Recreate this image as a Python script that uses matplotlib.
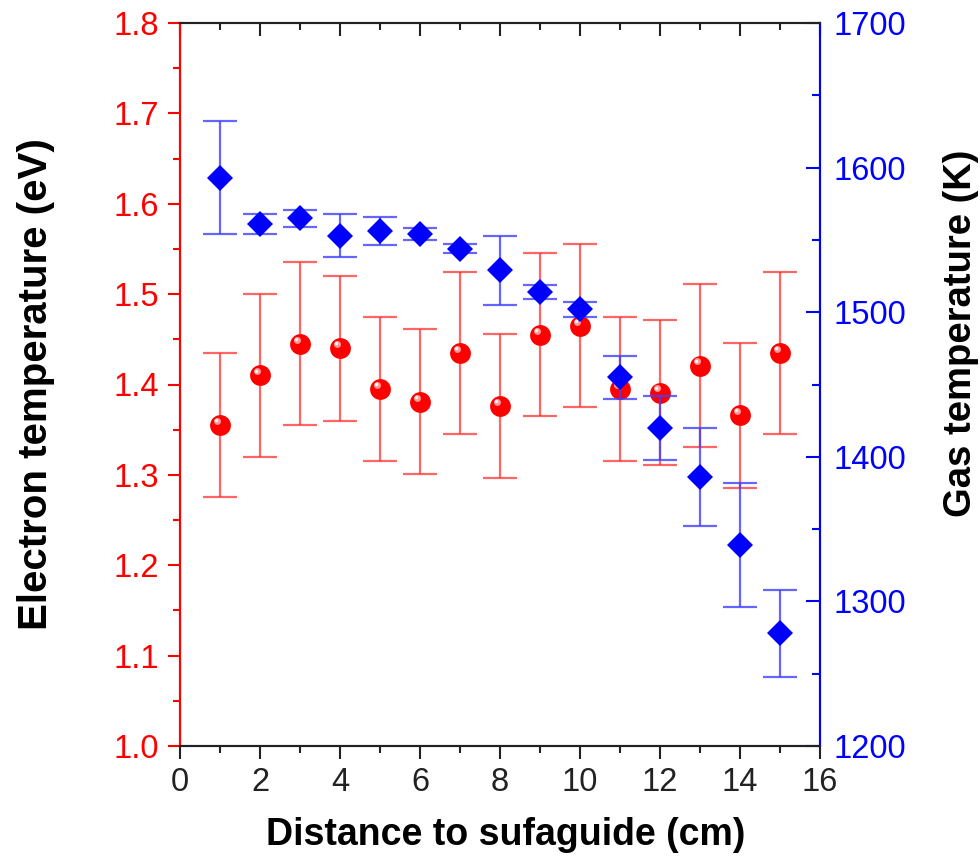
import matplotlib
matplotlib.use("Agg")
import matplotlib.pyplot as plt
from matplotlib.ticker import MultipleLocator
from matplotlib.transforms import offset_copy

plt.rcParams['font.family'] = ['Liberation Sans', 'DejaVu Sans']

distance = [1, 2, 3, 4, 5, 6, 7, 8, 9, 10, 11, 12, 13, 14, 15]
te = [1.355, 1.410, 1.445, 1.440, 1.395, 1.381, 1.435, 1.376, 1.455, 1.465,
      1.395, 1.391, 1.421, 1.366, 1.435]
te_err = [0.08, 0.09, 0.09, 0.08, 0.08, 0.08, 0.09, 0.08, 0.09, 0.09,
          0.08, 0.08, 0.09, 0.08, 0.09]
tg = [1593, 1561, 1565, 1553, 1556, 1554, 1544, 1529, 1514, 1502,
      1455, 1420, 1386, 1339, 1278]
tg_err = [39, 7, 6, 15, 9.5, 4, 3, 24, 5, 5, 15, 22, 34, 43, 30]

fig = plt.figure(figsize=(9.8, 8.61), dpi=100)
ax = fig.add_axes([180/980, 1-746/861, 640/980, 723/861])
ax2 = ax.twinx()

red = '#ff0000'
blue = '#0000ff'

ax.errorbar(distance, te, yerr=te_err, fmt='none', ecolor=(1, 0.2, 0.2, 0.75),
            elinewidth=1.6, capsize=12.5, capthick=1.6, zorder=2)
ax.plot(distance, te, 'o', color=red, markersize=15, markeredgewidth=0, zorder=3)
hl = offset_copy(ax.transData, fig=fig, x=-2.5, y=3, units='points')
ax.plot(distance, te, 'o', color='#ff9a9a', markersize=5, markeredgewidth=0,
        transform=hl, zorder=4)
hl2 = offset_copy(ax.transData, fig=fig, x=-3, y=3.5, units='points')
ax.plot(distance, te, 'o', color='#ffffff', markersize=2.5, markeredgewidth=0,
        alpha=0.9, transform=hl2, zorder=5)

ax2.errorbar(distance, tg, yerr=tg_err, fmt='none', ecolor=(0.25, 0.25, 1, 0.8),
             elinewidth=1.6, capsize=12.5, capthick=1.6, zorder=2)
ax2.plot(distance, tg, 'D', color=blue, markersize=13.5, markeredgewidth=0, zorder=3)

ax.set_xlim(0, 16)
ax.set_ylim(1.0, 1.8)
ax2.set_ylim(1200, 1700)

ax.xaxis.set_major_locator(MultipleLocator(2))
ax.xaxis.set_minor_locator(MultipleLocator(1))
ax.yaxis.set_major_locator(MultipleLocator(0.1))
ax.yaxis.set_minor_locator(MultipleLocator(0.05))
ax2.yaxis.set_major_locator(MultipleLocator(100))
ax2.yaxis.set_minor_locator(MultipleLocator(50))
ax.yaxis.set_major_formatter(matplotlib.ticker.FormatStrFormatter('%.1f'))

ax.tick_params(axis='x', which='both', direction='out', bottom=True, top=False,
               colors='#222222', labelsize=23.5, width=1.5, pad=6)
ax.tick_params(axis='x', which='major', length=9)
ax.tick_params(axis='x', which='minor', length=5)
ax.tick_params(axis='y', which='both', direction='out', colors=red, labelsize=23.5,
               width=1.5, pad=6, right=False)
ax.tick_params(axis='y', which='major', length=9)
ax.tick_params(axis='y', which='minor', length=5)
ax2.tick_params(axis='y', which='both', direction='in', colors=blue, labelsize=23.5,
                width=1.5, pad=10)
ax2.tick_params(axis='y', which='major', length=10)
ax2.tick_params(axis='y', which='minor', length=6)

# top axis ticks (inward, black)
ax3 = ax.secondary_xaxis('top')
ax3.xaxis.set_major_locator(MultipleLocator(2))
ax3.xaxis.set_minor_locator(MultipleLocator(1))
ax3.tick_params(axis='x', which='both', direction='in', labeltop=False,
                colors='#222222', width=1.5)
ax3.tick_params(axis='x', which='major', length=9)
ax3.tick_params(axis='x', which='minor', length=5)
ax3.spines['top'].set_color('#222222')
ax3.spines['top'].set_linewidth(1.2)

for a in (ax, ax2):
    a.spines['left'].set_color(red)
    a.spines['right'].set_color(blue)
    a.spines['bottom'].set_color('#222222')
    a.spines['top'].set_color('#222222')
    for s in a.spines.values():
        s.set_linewidth(1.5)

ax.set_xlabel('Distance to sufaguide (cm)', fontsize=27, fontweight='bold', labelpad=14)
ax.xaxis.label.set_x(0.509)
ax.set_ylabel('Electron temperature (eV)', fontsize=29, fontweight='bold', labelpad=42)
ax2.set_ylabel('Gas temperature (K)', fontsize=27.5, fontweight='bold', labelpad=26)
ax2.yaxis.label.set_y(0.571)

fig.savefig('out.png', dpi=100)
